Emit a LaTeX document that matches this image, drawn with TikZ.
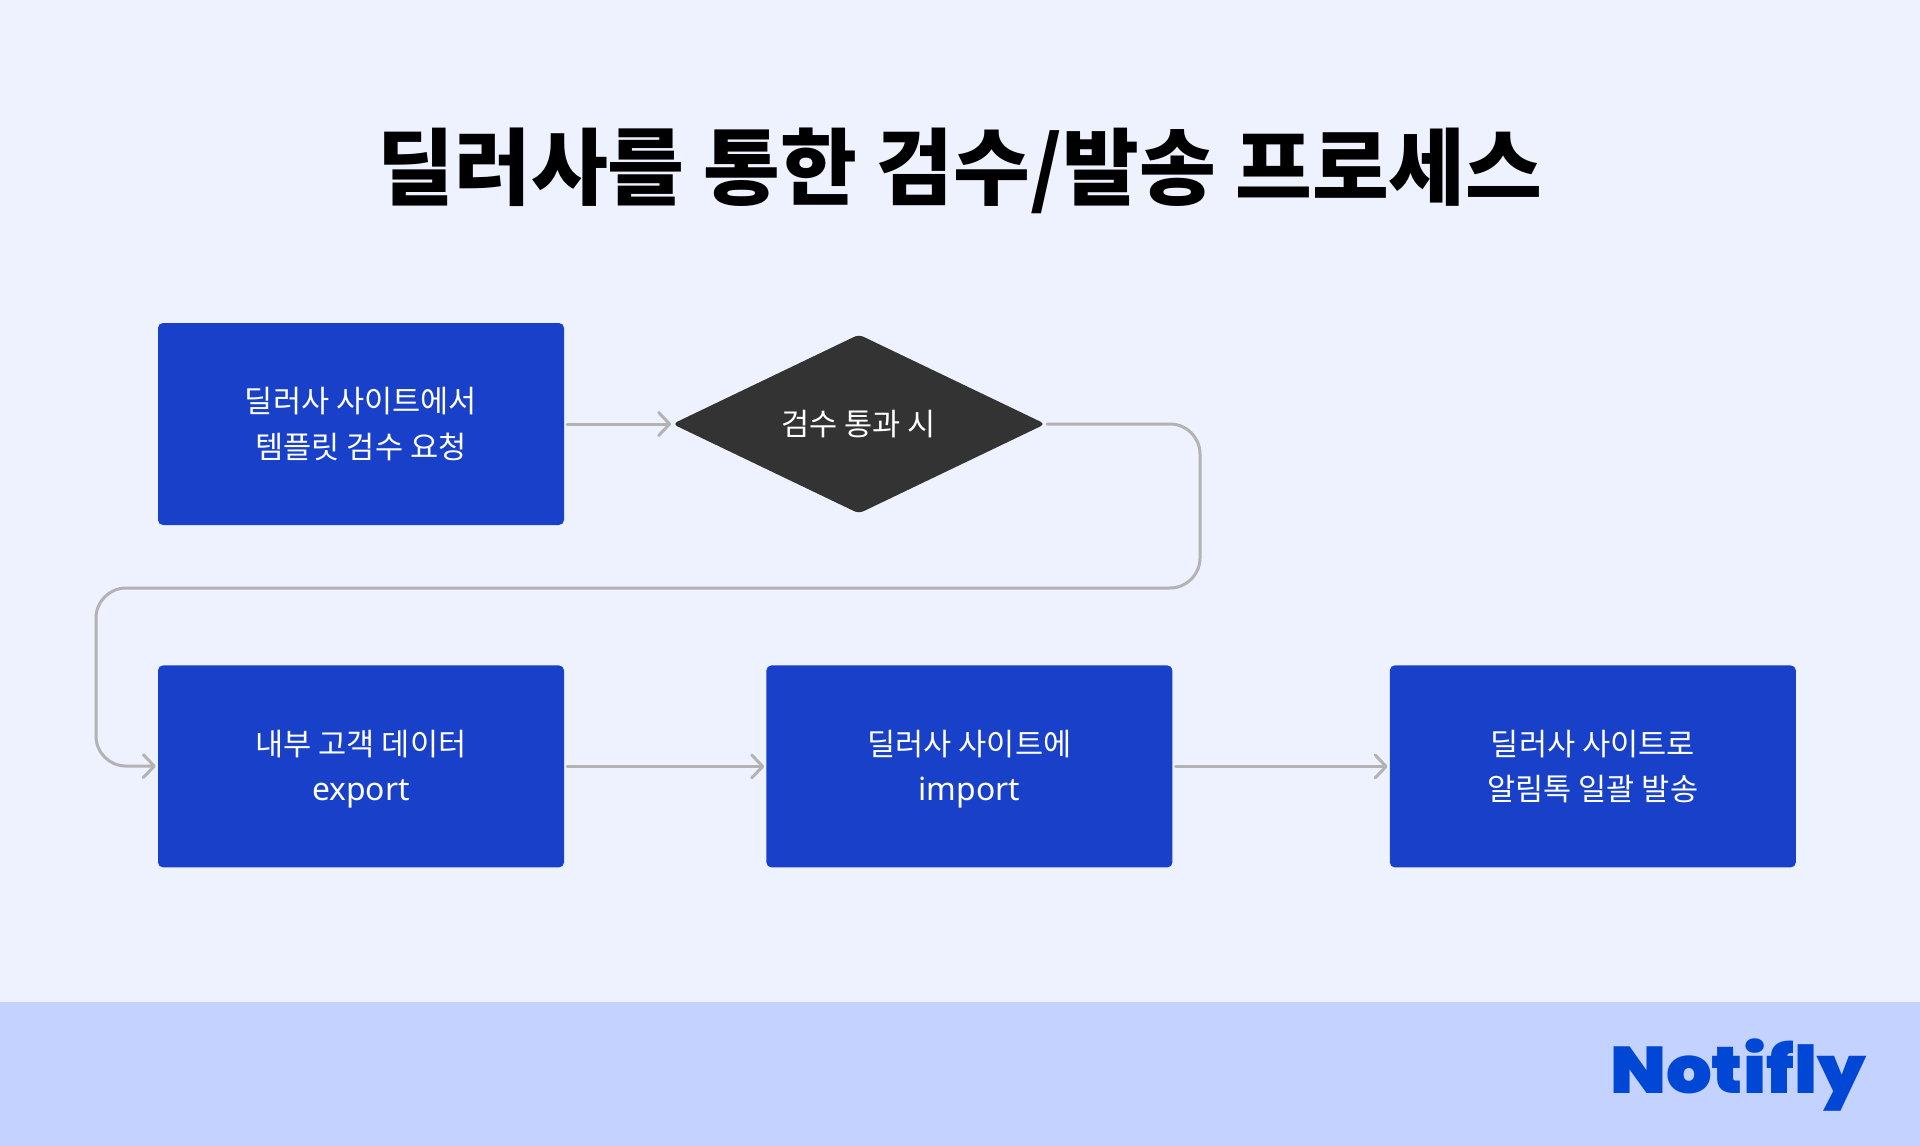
\documentclass[tikz,border=0pt]{standalone}
\usepackage{fontspec}
\setmainfont{Noto Sans CJK KR}
\newfontfamily\titlefont{Noto Sans CJK KR Black}
\newfontfamily\logofont{Poppins Black}
\newfontfamily\latinfont[Scale=1.04]{Noto Sans}
\newcommand{\latinword}[1]{\smash{\latinfont #1}\vphantom{가}}
\usetikzlibrary{arrows.meta,positioning,shapes.geometric}
\definecolor{pagebg}{HTML}{EEF2FF}
\definecolor{bandbg}{HTML}{C4D2FF}
\definecolor{boxblue}{HTML}{1840C9}
\definecolor{diamonddark}{HTML}{333333}
\definecolor{logoblue}{HTML}{0047D6}
\definecolor{linegray}{HTML}{B3B3B3}
\tikzset{
  stepbox/.style={fill=boxblue,text=white,rounded corners=5pt,minimum width=406pt,minimum height=202pt,
    align=center,font=\fontsize{30.6}{45.5}\selectfont,inner sep=0pt},
  checkbox/.style={shape=diamond,aspect=2.1,fill=diamonddark,text=white,rounded corners=5pt,minimum width=373pt,minimum height=179pt,
    align=center,font=\fontsize{30.6}{45}\selectfont,inner sep=0pt},
  flow/.style={draw=linegray,line width=3pt,line cap=round,-{Straight Barb[length=11pt,width=23pt,line width=3pt,round]},shorten >=2pt,shorten <=3pt}
}
\begin{document}
\begin{tikzpicture}[x=1pt,y=-1pt,node distance=110pt]
\useasboundingbox (0,0) rectangle (1920,1146);
\fill[pagebg] (0,0) rectangle (1920,1146);
\fill[bandbg] (0,1002) rectangle (1920,1146);

\node (title) at (960,171) {\titlefont\fontsize{83.5}{84}\selectfont 딜러사를 통한 검수/발송 프로세스};

\node (request) [stepbox] at (361,424) {딜러사 사이트에서\\템플릿 검수 요청};
\node (check) [checkbox,right=108pt of request] {검수 통과 시};
\node (export) [stepbox,below=140pt of request] {내부 고객 데이터\\\latinword{export}};
\node (import) [stepbox,right=202pt of export] {딜러사 사이트에\\\latinword{import}};
\node (send) [stepbox,right=217pt of import] {딜러사 사이트로\\알림톡 일괄 발송};

\node (logo) at (1738,1075) {\logofont\fontsize{66}{66}\selectfont\color{logoblue}\scalebox{1.09}[1]{Notifly}};

\coordinate (turnA) at (1200,424);
\coordinate (turnB) at (1200,588);
\coordinate (turnC) at (96,588);
\coordinate (turnD) at (96,766);

\draw[flow,shorten >=1pt] (request) -- (check);
\draw[flow,shorten <=1.5pt,rounded corners=30pt] (check) -- (turnA) -- (turnB) -- (turnC) -- (turnD) -- (export);
\draw[flow] (export) -- (import);
\draw[flow] (import) -- (send);
\end{tikzpicture}
\end{document}
